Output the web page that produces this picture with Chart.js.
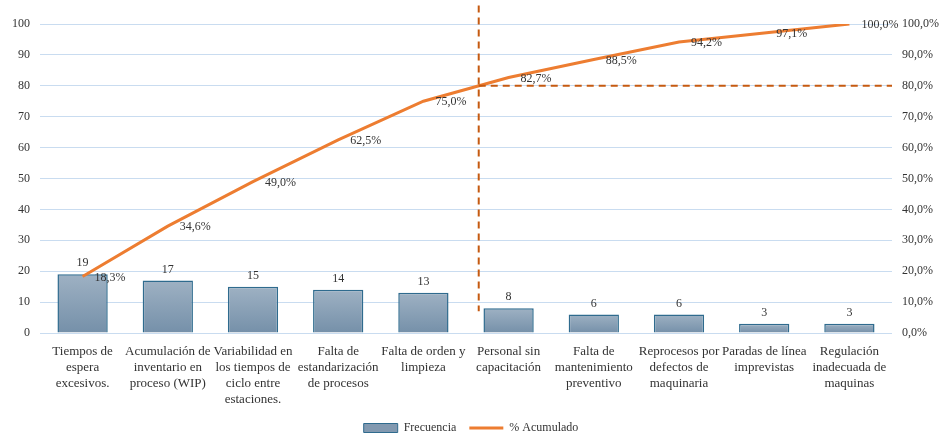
<!DOCTYPE html>
<html>
<head>
<meta charset="utf-8">
<script src="https://cdn.jsdelivr.net/npm/chart.js@4/dist/chart.umd.min.js"></script>
<style>
  html, body { margin: 0; padding: 0; background: #ffffff; }
  #wrap { width: 942px; height: 434px; }
</style>
</head>
<body>
<div id="wrap"><canvas id="pareto" width="942" height="434"></canvas></div>
<script>
// Causes, sorted by frequency (Pareto order)
const categories = [
  ["Tiempos de", "espera", "excesivos."],
  ["Acumulación de", "inventario en", "proceso (WIP)"],
  ["Variabilidad en", "los tiempos de", "ciclo entre", "estaciones."],
  ["Falta de", "estandarización", "de procesos"],
  ["Falta de orden y", "limpieza"],
  ["Personal sin", "capacitación"],
  ["Falta de", "mantenimiento", "preventivo"],
  ["Reprocesos por", "defectos de", "maquinaria"],
  ["Paradas de línea", "imprevistas"],
  ["Regulación", "inadecuada de", "maquinas"]
];
const frecuencia = [19, 17, 15, 14, 13, 8, 6, 6, 3, 3];
const acumulado = [18.3, 34.6, 49.0, 62.5, 75.0, 82.7, 88.5, 94.2, 97.1, 100.0];
const leftTicks = [0, 10, 20, 30, 40, 50, 60, 70, 80, 90, 100];
const rightTicks = [0, 10, 20, 30, 40, 50, 60, 70, 80, 90, 100];
const corte = 80;               // 80 % Pareto threshold
const corteVertical = [7, 106]; // extent of the vertical cut line (left-axis units)

const FONT = '"Liberation Serif", "Times New Roman", serif';
const TEXT = '#333333';

const pct = v => v.toFixed(1).replace('.', ',') + '%';

function barGradient(context) {
  const chart = context.chart;
  const { chartArea } = chart;
  if (!chartArea || context.type !== 'data') return '#8aa0b5';
  const y = chart.scales.y;
  const top = y.getPixelForValue(context.parsed.y);
  const bottom = y.getPixelForValue(0);
  if (!isFinite(top) || !isFinite(bottom) || top === bottom) return '#8aa0b5';
  const g = chart.ctx.createLinearGradient(0, top, 0, bottom);
  g.addColorStop(0, '#9eb1c3');
  g.addColorStop(1, '#7590a9');
  return g;
}

// Value labels and the 80 % cut lines
const overlay = {
  id: 'overlay',
  afterDatasetsDraw(chart) {
    const ctx = chart.ctx;
    const xs = chart.scales.x, yl = chart.scales.y, yr = chart.scales.y1;
    const area = chart.chartArea;

    // position where the cumulative curve reaches the threshold
    let idx = 0;
    for (let i = 1; i < acumulado.length; i++) {
      if (acumulado[i] >= corte) {
        idx = (i - 1) + (corte - acumulado[i - 1]) / (acumulado[i] - acumulado[i - 1]);
        break;
      }
    }
    const cx = xs.getPixelForValue(idx);
    const cy = yr.getPixelForValue(corte);

    ctx.save();
    ctx.strokeStyle = '#c55a11';
    ctx.lineWidth = 2;
    ctx.setLineDash([7, 5]);
    ctx.beginPath();
    ctx.moveTo(cx, yl.getPixelForValue(corteVertical[1]));
    ctx.lineTo(cx, yl.getPixelForValue(corteVertical[0]));
    ctx.stroke();
    ctx.beginPath();
    ctx.moveTo(cx, cy);
    ctx.lineTo(area.right, cy);
    ctx.stroke();
    ctx.restore();

    ctx.save();
    ctx.font = '12px ' + FONT;
    ctx.fillStyle = TEXT;

    // bar values
    ctx.textAlign = 'center';
    ctx.textBaseline = 'bottom';
    chart.getDatasetMeta(0).data.forEach((el, i) => {
      ctx.fillText(String(frecuencia[i]), el.x, el.y - 5);
    });

    // cumulative percentages, to the right of each point
    ctx.textAlign = 'left';
    ctx.textBaseline = 'middle';
    chart.getDatasetMeta(1).data.forEach((el, i) => {
      ctx.fillText(pct(acumulado[i]), el.x + 12, el.y + 1);
    });
    ctx.restore();
  }
};

new Chart(document.getElementById('pareto'), {
  data: {
    labels: categories,
    datasets: [
      {
        type: 'bar',
        label: 'Frecuencia',
        data: frecuencia,
        yAxisID: 'y',
        backgroundColor: barGradient,
        borderColor: '#2f6b8e',
        borderWidth: 1.5,
        barPercentage: 0.59,
        categoryPercentage: 1,
        order: 1
      },
      {
        type: 'line',
        label: '% Acumulado',
        data: acumulado,
        yAxisID: 'y1',
        borderColor: '#ed7d31',
        backgroundColor: '#ed7d31',
        borderWidth: 3,
        pointRadius: 0,
        tension: 0,
        order: 0
      }
    ]
  },
  options: {
    responsive: false,
    animation: false,
    layout: { padding: { top: 24, left: 0, right: 0, bottom: -10 } },
    plugins: {
      tooltip: { enabled: false },
      legend: {
        position: 'bottom',
        labels: {
          font: { family: FONT, size: 12 },
          color: TEXT,
          usePointStyle: true,
          pointStyleWidth: 34,
          boxHeight: 9,
          padding: 13,
          sort: (a, b) => a.datasetIndex - b.datasetIndex,
          generateLabels(chart) {
            const items = Chart.defaults.plugins.legend.labels.generateLabels(chart);
            items.forEach(it => {
              if (it.datasetIndex === 0) {
                it.pointStyle = 'rect';
                it.fillStyle = '#8299b0';
                it.strokeStyle = '#2f6b8e';
                it.lineWidth = 1;
              } else {
                it.pointStyle = 'line';
                it.strokeStyle = '#ed7d31';
                it.lineWidth = 3;
              }
            });
            return items;
          }
        }
      }
    },
    scales: {
      x: {
        grid: { display: false },
        border: { display: false },
        ticks: {
          color: TEXT,
          font: { family: FONT, size: 13, lineHeight: 1.23 },
          maxRotation: 0,
          autoSkip: false,
          padding: 3
        },
        afterFit(scale) { scale.height = 76; }
      },
      y: {
        position: 'left',
        min: 0,
        max: 100,
        afterBuildTicks(scale) { scale.ticks = leftTicks.map(v => ({ value: v })); },
        grid: { color: '#c9dcf0', lineWidth: 1, drawTicks: false },
        border: { display: false },
        ticks: { color: TEXT, font: { family: FONT, size: 12 }, padding: 10 },
        afterFit(scale) { scale.width = 40; }
      },
      y1: {
        position: 'right',
        min: 0,
        max: 100,
        afterBuildTicks(scale) { scale.ticks = rightTicks.map(v => ({ value: v })); },
        grid: { display: false, drawTicks: false },
        border: { display: false },
        ticks: {
          color: TEXT,
          font: { family: FONT, size: 12 },
          padding: 10,
          callback: v => pct(v)
        },
        afterFit(scale) { scale.width = 50; }
      }
    }
  },
  plugins: [overlay]
});
</script>
</body>
</html>
